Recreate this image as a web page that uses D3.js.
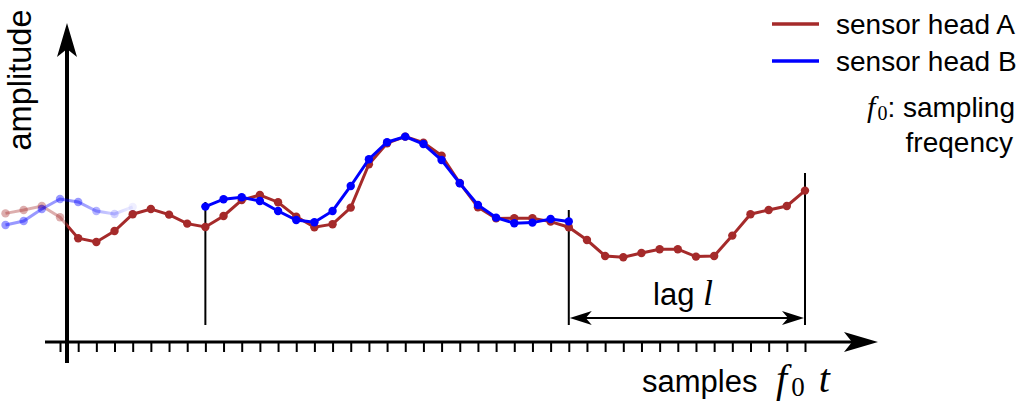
<!DOCTYPE html>
<html>
<head>
<meta charset="utf-8">
<script src="https://cdn.jsdelivr.net/npm/d3@7"></script>
<style>
  html, body { margin: 0; padding: 0; background: #fff; }
  svg { display: block; }
  text { font-family: "Liberation Sans", Arial, sans-serif; fill: #000; }
  .math { font-family: "Liberation Serif", "DejaVu Serif", serif; font-style: italic; }
</style>
</head>
<body>
<svg id="chart" width="1021" height="403"></svg>
<script>
// sample indices (f0 t)
const samples = d3.range(-3, 42);
// sensor head A amplitude, one value per sample from -3 to 41
const sensorA = [6.43, 6.6, 6.8, 6.24, 5.19, 5.0, 5.55, 6.39, 6.65, 6.37,
  5.92, 5.75, 6.3, 7.1, 7.35, 6.99, 6.27, 5.74, 5.89, 6.72,
  8.89, 9.94, 10.27, 9.97, 9.32, 7.95, 6.74, 6.18, 6.19, 6.19,
  6.02, 5.74, 5.1, 4.3, 4.24, 4.45, 4.64, 4.64, 4.27, 4.3,
  5.32, 6.39, 6.6, 6.8, 7.57];
// sensor head B amplitude (null = not drawn)
const sensorB = [5.85, 6.05, 6.65, 7.15, 7.0, 6.55, 6.4, 6.75, null, null,
  null, 6.77, 7.14, 7.24, 7.05, 6.55, 6.1, 5.99, 6.55, 7.8,
  9.14, 9.99, 10.27, 9.9, 9.1, 7.94, 6.85, 6.22, 5.94, 5.97,
  6.15, 6.03];
// marker lines: sample index and top amplitude
const markers = [8, 28, 41];
const markerTops = [7.0, 6.6, 8.45];
const tickSamples = d3.range(0, 42);

const colorA = '#a52a2a';
const colorB = '#0000ff';

const svg = d3.select('#chart');
const x = d3.scaleLinear().domain([-3, 41]).range([5.5, 805]);
const y = d3.scaleLinear().domain([0, 10]).range([342, 142]);

const axisX = 67;

// fading for the part left of the amplitude axis
const fadeA = px => px < axisX ? 0.38 : 1;
const fadeB = px => px <= 80 ? 0.4 : Math.max(0.05, 0.4 - (px - 80) * 0.0064);

const defs = svg.append('defs');
function makeGrad(id, color, fade) {
  const g = defs.append('linearGradient')
    .attr('id', id)
    .attr('gradientUnits', 'userSpaceOnUse')
    .attr('x1', 0).attr('x2', 1021).attr('y1', 0).attr('y2', 0);
  d3.range(0, 1022, 2).forEach(px => {
    g.append('stop')
      .attr('offset', px / 1021)
      .attr('stop-color', color)
      .attr('stop-opacity', fade(px));
  });
}
makeGrad('gradA', colorA, fadeA);
makeGrad('gradB', colorB, px => px < 200 ? fadeB(px) : 1);

const ptsA = samples.map((k, i) => ({ k, v: sensorA[i] }));
const ptsB = sensorB.map((v, i) => ({ k: samples[i], v }));

const line = d3.line()
  .defined(d => d.v != null)
  .x(d => x(d.k))
  .y(d => y(d.v));

// marker lines
markers.forEach((k, i) => {
  svg.append('line')
    .attr('x1', x(k)).attr('x2', x(k))
    .attr('y1', y(markerTops[i])).attr('y2', y(0.85))
    .attr('stroke', '#000').attr('stroke-width', 2);
});

// x axis with ticks
const axis = d3.axisBottom(x)
  .tickValues(tickSamples)
  .tickSize(10)
  .tickFormat('');
const gAxis = svg.append('g')
  .attr('transform', `translate(0,${y(0)})`)
  .call(axis);
gAxis.select('.domain').remove();
gAxis.selectAll('.tick line').attr('stroke', '#000').attr('stroke-width', 2);

svg.append('line')
  .attr('x1', 45).attr('x2', 860)
  .attr('y1', y(0)).attr('y2', y(0))
  .attr('stroke', '#000').attr('stroke-width', 3);
// arrow head x
const tipX = 878, yy = y(0);
svg.append('path')
  .attr('d', `M${tipX},${yy} L${tipX - 34},${yy - 10} L${tipX - 26},${yy} L${tipX - 34},${yy + 10} Z`)
  .attr('fill', '#000');

// y axis
svg.append('line')
  .attr('x1', axisX).attr('x2', axisX)
  .attr('y1', 363).attr('y2', 45)
  .attr('stroke', '#000').attr('stroke-width', 4);
const tipY = 23;
svg.append('path')
  .attr('d', `M${axisX},${tipY} L${axisX - 10},${tipY + 34} L${axisX},${tipY + 26} L${axisX + 10},${tipY + 34} Z`)
  .attr('fill', '#000');

// series A
svg.append('path')
  .datum(ptsA)
  .attr('d', line)
  .attr('fill', 'none')
  .attr('stroke', 'url(#gradA)')
  .attr('stroke-width', 3);
svg.append('g').selectAll('circle')
  .data(ptsA)
  .join('circle')
  .attr('cx', d => x(d.k))
  .attr('cy', d => y(d.v))
  .attr('r', 4.2)
  .attr('fill', colorA)
  .attr('fill-opacity', d => fadeA(x(d.k)));

// series B
svg.append('path')
  .datum(ptsB)
  .attr('d', line)
  .attr('fill', 'none')
  .attr('stroke', 'url(#gradB)')
  .attr('stroke-width', 3);
svg.append('g').selectAll('circle')
  .data(ptsB.filter(d => d.v != null))
  .join('circle')
  .attr('cx', d => x(d.k))
  .attr('cy', d => y(d.v))
  .attr('r', 4.2)
  .attr('fill', colorB)
  .attr('fill-opacity', d => d.k < 8 ? fadeB(x(d.k)) : 1);

// lag arrow
const lagY = y(1.2);
const lx1 = x(markers[1]), lx2 = x(markers[2]);
svg.append('line')
  .attr('x1', lx1 + 10).attr('x2', lx2 - 10)
  .attr('y1', lagY).attr('y2', lagY)
  .attr('stroke', '#000').attr('stroke-width', 2);
svg.append('path')
  .attr('d', `M${lx1 + 1},${lagY} L${lx1 + 23},${lagY - 7} L${lx1 + 17},${lagY} L${lx1 + 23},${lagY + 7} Z`)
  .attr('fill', '#000');
svg.append('path')
  .attr('d', `M${lx2 - 1},${lagY} L${lx2 - 23},${lagY - 7} L${lx2 - 17},${lagY} L${lx2 - 23},${lagY + 7} Z`)
  .attr('fill', '#000');
const lagText = svg.append('text')
  .attr('x', 653).attr('y', 305)
  .style('font-size', '31px');
lagText.append('tspan').text('lag ');
lagText.append('tspan').attr('class', 'math').style('font-size', '36px').text('l');

// axis labels
svg.append('text')
  .attr('transform', 'translate(31,80) rotate(-90)')
  .attr('text-anchor', 'middle')
  .style('font-size', '32.5px')
  .text('amplitude');

const xl = svg.append('text')
  .attr('x', 642).attr('y', 392)
  .style('font-size', '31px');
xl.append('tspan').text('samples');
xl.append('tspan').attr('class', 'math').attr('x', 776).style('font-size', '40px').text('f');
xl.append('tspan').attr('class', 'math').style('font-style', 'normal').style('font-size', '27px').attr('dx', 4).attr('dy', 4).text('0');
xl.append('tspan').attr('class', 'math').style('font-size', '40px').attr('dy', -4).attr('dx', 14).text('t');

// legend
const legend = [
  { label: 'sensor head A', color: colorA },
  { label: 'sensor head B', color: colorB }
];
legend.forEach((d, i) => {
  const ly = 24 + i * 37;
  svg.append('line')
    .attr('x1', 772).attr('x2', 819)
    .attr('y1', ly).attr('y2', ly)
    .attr('stroke', d.color).attr('stroke-width', 3.5);
  svg.append('text')
    .attr('x', 836).attr('y', ly + 10)
    .style('font-size', '28px')
    .text(d.label);
});

const note = svg.append('text')
  .attr('x', 1015).attr('y', 117)
  .attr('text-anchor', 'end')
  .style('font-size', '28px');
note.append('tspan').attr('class', 'math').style('font-size', '30px').text('f');
note.append('tspan').attr('class', 'math').style('font-style', 'normal').style('font-size', '20px').attr('dx', 2).attr('dy', 3).text('0');
note.append('tspan').attr('dy', -3).text(': sampling');
svg.append('text')
  .attr('x', 1013).attr('y', 152)
  .attr('text-anchor', 'end')
  .style('font-size', '28px')
  .text('freqency');
</script>
</body>
</html>
